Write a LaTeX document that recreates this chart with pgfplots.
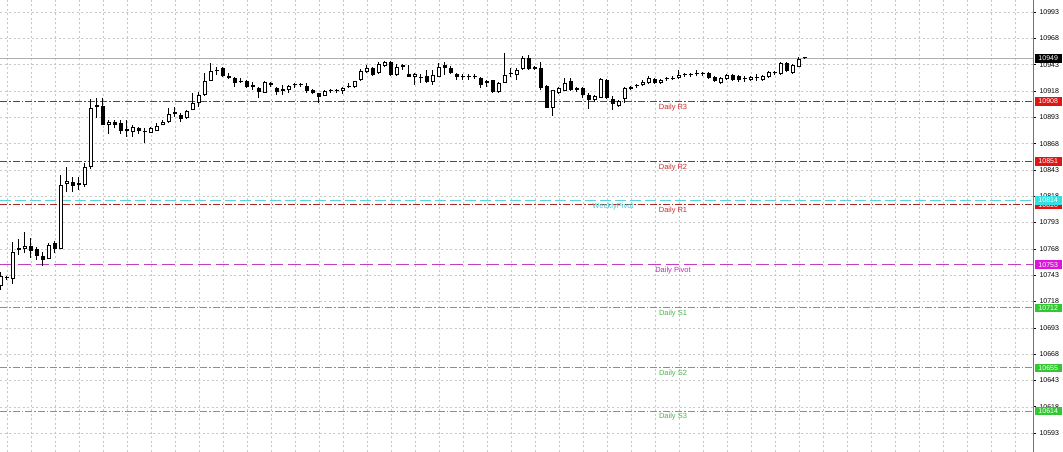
\documentclass[border=0pt]{standalone}
\usepackage{fontspec}
\setmainfont{Liberation Sans}
\usepackage{pgfplots}
\usepackage{pgfplotstable}
\pgfplotsset{compat=1.18}

\definecolor{rline}{RGB}{165,40,40}
\definecolor{rtext}{RGB}{200,45,45}
\definecolor{rbox}{RGB}{225,20,20}
\definecolor{wline}{RGB}{90,210,220}
\definecolor{wtext}{RGB}{60,200,210}
\definecolor{wbox}{RGB}{50,225,225}
\definecolor{pline}{RGB}{195,60,195}
\definecolor{ptext}{RGB}{190,40,190}
\definecolor{pbox}{RGB}{220,20,220}
\definecolor{sline}{RGB}{80,185,80}
\definecolor{stext}{RGB}{75,180,75}
\definecolor{sbox}{RGB}{50,200,50}
\definecolor{gridc}{RGB}{200,200,200}
\definecolor{curline}{RGB}{175,175,175}

\newcommand\tickfont{\fontsize{7}{8}\selectfont}
\newcommand\lblfont{\fontsize{7.5}{9}\selectfont}

\pgfplotstableread{
x o h l c
0 10732.8 10746.1 10729.0 10742.3
1 10741.5 10742.5 10738.5 10740.0
2 10739.4 10774.6 10734.7 10765.1
3 10767.0 10777.4 10762.2 10768.9
4 10767.9 10784.1 10764.1 10770.8
5 10770.8 10778.4 10759.4 10766.0
6 10767.9 10769.8 10757.5 10761.3
7 10761.3 10765.1 10751.8 10757.5
8 10758.4 10773.6 10758.4 10771.7
9 10773.6 10775.5 10764.1 10767.9
10 10767.9 10838.2 10767.9 10828.7
11 10829.7 10845.8 10822.1 10832.5
12 10831.5 10836.3 10822.1 10827.8
13 10828.7 10836.3 10824.0 10830.6
14 10828.7 10849.6 10826.8 10845.8
15 10845.8 10910.4 10843.9 10901.8
16 10903.2 10911.3 10892.4 10903.7
17 10903.7 10911.3 10885.7 10885.7
18 10885.7 10890.4 10877.1 10888.5
19 10888.5 10890.4 10882.8 10885.7
20 10887.6 10890.4 10877.1 10880.0
21 10881.9 10890.4 10874.3 10880.0
22 10879.0 10885.7 10874.3 10883.8
23 10882.8 10883.8 10877.1 10880.0
24 10879.5 10882.8 10868.6 10878.6
25 10878.1 10883.8 10878.1 10882.8
26 10880.0 10887.6 10880.0 10884.7
27 10885.7 10890.4 10885.7 10888.5
28 10888.5 10901.8 10887.6 10896.1
29 10898.0 10902.8 10893.3 10896.1
30 10895.2 10897.1 10888.5 10891.4
31 10892.4 10899.9 10891.4 10899.0
32 10899.9 10916.1 10899.9 10906.6
33 10906.6 10917.0 10902.8 10914.2
34 10914.2 10935.1 10913.2 10927.5
35 10927.5 10944.6 10927.5 10937.0
36 10937.0 10940.8 10933.2 10937.5
37 10939.8 10940.8 10931.3 10932.2
38 10932.2 10935.1 10929.4 10930.3
39 10930.3 10931.3 10921.8 10925.6
40 10927.5 10930.3 10925.6 10926.5
41 10927.5 10928.4 10920.8 10921.8
42 10923.7 10926.5 10918.9 10921.8
43 10920.8 10921.8 10911.3 10917.0
44 10916.1 10927.5 10916.1 10926.5
45 10925.6 10926.5 10921.8 10923.7
46 10920.8 10921.8 10914.2 10917.0
47 10918.9 10923.7 10914.2 10918.4
48 10918.9 10923.7 10916.1 10922.7
49 10923.2 10925.6 10920.8 10923.7
50 10923.7 10925.6 10921.8 10923.2
51 10922.7 10925.6 10916.1 10918.0
52 10918.9 10919.9 10915.1 10916.1
53 10916.1 10916.1 10906.6 10912.3
54 10913.2 10918.9 10913.2 10918.0
55 10917.5 10919.9 10916.1 10918.0
56 10918.0 10919.9 10916.1 10918.5
57 10918.0 10921.8 10915.1 10920.8
58 10921.3 10925.6 10920.8 10921.8
59 10921.8 10927.5 10920.8 10927.5
60 10928.4 10938.9 10927.5 10937.0
61 10936.0 10942.7 10935.1 10939.8
62 10939.8 10940.8 10932.2 10933.2
63 10935.1 10945.5 10934.1 10943.6
64 10941.7 10946.5 10940.8 10945.5
65 10945.5 10946.5 10932.2 10933.2
66 10933.2 10943.6 10932.2 10940.8
67 10941.2 10943.6 10937.9 10941.7
68 10934.1 10942.7 10931.3 10931.3
69 10931.3 10935.1 10923.7 10934.1
70 10930.3 10934.1 10925.6 10930.8
71 10932.2 10937.9 10925.6 10926.5
72 10926.5 10937.9 10923.7 10933.2
73 10931.3 10944.6 10931.3 10940.8
74 10942.7 10945.5 10933.2 10939.8
75 10939.8 10941.7 10934.1 10935.1
76 10934.1 10935.1 10928.4 10931.3
77 10931.3 10934.1 10928.4 10930.8
78 10931.3 10934.1 10928.4 10930.8
79 10931.3 10934.1 10929.4 10930.8
80 10930.3 10931.3 10920.8 10923.7
81 10926.5 10928.4 10921.8 10926.0
82 10928.4 10928.4 10916.1 10917.0
83 10917.0 10926.5 10916.1 10925.6
84 10925.6 10954.1 10925.6 10933.2
85 10934.1 10939.8 10931.3 10934.6
86 10933.2 10939.8 10928.4 10937.9
87 10938.9 10951.2 10937.9 10949.3
88 10949.3 10952.2 10937.9 10938.9
89 10940.8 10941.7 10937.9 10938.9
90 10939.8 10945.5 10918.9 10920.8
91 10922.7 10923.7 10901.8 10901.8
92 10901.8 10918.9 10894.3 10918.9
93 10916.1 10921.8 10915.1 10920.8
94 10918.0 10930.3 10918.0 10925.6
95 10927.5 10930.3 10918.0 10918.9
96 10920.8 10921.8 10917.0 10918.9
97 10920.8 10921.8 10911.3 10914.2
98 10914.2 10916.1 10900.9 10909.4
99 10909.4 10914.2 10907.5 10913.2
100 10911.3 10930.3 10911.3 10929.4
101 10928.4 10929.4 10910.4 10911.3
102 10910.4 10913.2 10899.9 10905.6
103 10903.7 10909.4 10902.8 10908.5
104 10910.4 10921.8 10906.6 10920.8
105 10920.3 10922.7 10918.9 10920.8
106 10922.7 10924.6 10920.8 10923.2
107 10923.7 10928.4 10922.7 10926.5
108 10925.6 10932.2 10924.6 10930.3
109 10929.4 10930.3 10924.6 10925.6
110 10925.6 10929.4 10924.6 10928.4
111 10929.4 10931.3 10927.5 10929.9
112 10929.4 10932.2 10928.4 10929.9
113 10930.3 10937.9 10929.4 10933.2
114 10933.2 10935.1 10931.3 10933.7
115 10933.7 10935.1 10931.3 10933.2
116 10934.1 10937.9 10932.2 10934.6
117 10934.6 10936.0 10932.2 10934.1
118 10935.1 10936.0 10929.4 10930.3
119 10931.3 10932.2 10926.5 10927.5
120 10925.6 10931.3 10924.6 10930.3
121 10929.4 10934.1 10928.4 10933.2
122 10933.2 10934.1 10927.5 10928.4
123 10932.2 10933.2 10926.5 10928.4
124 10929.9 10932.2 10926.5 10929.4
125 10928.4 10932.2 10927.5 10931.3
126 10930.3 10934.1 10927.5 10930.8
127 10928.4 10933.2 10927.5 10932.2
128 10931.3 10937.0 10930.3 10936.0
129 10935.1 10937.0 10933.2 10935.6
130 10934.1 10945.5 10933.2 10944.6
131 10944.6 10945.5 10936.0 10937.0
132 10935.1 10943.6 10934.1 10942.7
133 10940.8 10950.3 10940.8 10948.4
134 10950.0 10950.5 10948.0 10949.0
}\candles

\begin{document}
\begin{tikzpicture}
\begin{axis}[
  name=ax,
  scale only axis, width=1033pt, height=452pt,
  xmin=-0.1167, xmax=172.05,
  ymin=10575.1, ymax=11004.4,
  axis line style={draw=none},
  xtick={1.13,5.13,...,169.13},
  xticklabels={},
  xtick style={draw=none},
  ytick={10593,10618,...,10993},
  ytick pos=right, yticklabel pos=right,
  tick align=outside,
  major tick length=3pt,
  ytick style={black, line width=0.7pt},
  yticklabel style={font=\tickfont, /pgf/number format/1000 sep={}, /pgf/number format/assume math mode=true},
  scaled y ticks=false,
  grid=major,
  major grid style={draw=gridc, dash pattern=on 2pt off 2.5pt, line width=0.6pt},
  clip=false,
]
% reference lines
\addplot[curline, line width=0.8pt, forget plot] coordinates {(-0.1167,10949) (172.05,10949)};
\addplot[rline, line width=1pt, dash pattern=on 7pt off 2pt on 1.5pt off 2pt, forget plot] coordinates {(-0.1167,10908) (172.05,10908)};
\addplot[rline, line width=1pt, dash pattern=on 7pt off 2pt on 1.5pt off 2pt, forget plot] coordinates {(-0.1167,10851) (172.05,10851)};
\addplot[rline, line width=1pt, dash pattern=on 7pt off 2pt on 1.5pt off 2pt, forget plot] coordinates {(-0.1167,10810) (172.05,10810)};
\addplot[wline, line width=1pt, dash pattern=on 11pt off 4pt, forget plot] coordinates {(-0.1167,10814) (172.05,10814)};
\addplot[pline, line width=1pt, dash pattern=on 13pt off 5pt, forget plot] coordinates {(-0.1167,10753) (172.05,10753)};
\addplot[sline, line width=1pt, dash pattern=on 7pt off 2pt on 1.5pt off 2pt, forget plot] coordinates {(-0.1167,10712) (172.05,10712)};
\addplot[sline, line width=1pt, dash pattern=on 7pt off 2pt on 1.5pt off 2pt, forget plot] coordinates {(-0.1167,10655) (172.05,10655)};
\addplot[sline, line width=1pt, dash pattern=on 7pt off 2pt on 1.5pt off 2pt, forget plot] coordinates {(-0.1167,10614) (172.05,10614)};

% candles: wicks
\addplot[draw=none, mark=none, forget plot,
  error bars/.cd, y dir=plus, y explicit, error mark=none,
  error bar style={draw=black, solid, line width=0.9pt}]
  table[x=x, y=l, y error plus expr=\thisrow{h}-\thisrow{l}] {\candles};
% bodies (outline / bear fill)
\addplot[draw=none, mark=none, forget plot,
  error bars/.cd, y dir=plus, y explicit, error mark=none,
  error bar style={draw=black, solid, line width=3.6pt}]
  table[x=x, y expr={min(\thisrow{o},\thisrow{c})}, y error plus expr={max(abs(\thisrow{c}-\thisrow{o}),1)}] {\candles};
% bull hollow interior
\addplot[draw=none, mark=none, forget plot,
  error bars/.cd, y dir=plus, y explicit, error mark=none,
  error bar style={draw=white, solid, line width=1.6pt}]
  table[x=x, y expr={\thisrow{o}+0.95}, y error plus expr={max(\thisrow{c}-\thisrow{o}-1.9,0)}] {\candles};

% line labels
\node[text=rtext, font=\lblfont, yshift=-6pt] at (axis cs:112.05,10908) {Daily R3};
\node[text=rtext, font=\lblfont, yshift=-6pt] at (axis cs:112.05,10851) {Daily R2};
\node[text=rtext, font=\lblfont, yshift=-6pt] at (axis cs:112.05,10810) {Daily R1};
\node[text=wtext, font=\lblfont, yshift=-6.5pt] at (axis cs:102.05,10814) {WeeklyPivot};
\node[text=ptext, font=\lblfont, yshift=-5.5pt] at (axis cs:112.05,10753) {Daily Pivot};
\node[text=stext, font=\lblfont, yshift=-6pt] at (axis cs:112.05,10712) {Daily S1};
\node[text=stext, font=\lblfont, yshift=-6pt] at (axis cs:112.05,10655) {Daily S2};
\node[text=stext, font=\lblfont, yshift=-6pt] at (axis cs:112.05,10614) {Daily S3};

\coordinate (b949) at (axis cs:172.05,10949);
\coordinate (b908) at (axis cs:172.05,10908);
\coordinate (b851) at (axis cs:172.05,10851);
\coordinate (b810) at (axis cs:172.05,10810);
\coordinate (b814) at (axis cs:172.05,10814);
\coordinate (b753) at (axis cs:172.05,10753);
\coordinate (b712) at (axis cs:172.05,10712);
\coordinate (b655) at (axis cs:172.05,10655);
\coordinate (b614) at (axis cs:172.05,10614);
\end{axis}
\draw[black!55, line width=1pt] (ax.south east) -- (ax.north east);
\tikzset{pbx/.style={anchor=west, xshift=1.5pt, minimum width=27pt, minimum height=8.5pt, inner sep=0pt, text=white, font=\tickfont}}
\node[pbx, fill=black] at (b949) {10949};
\node[pbx, fill=rbox] at (b908) {10908};
\node[pbx, fill=rbox] at (b851) {10851};
\node[pbx, fill=rbox] at (b810) {10810};
\node[pbx, fill=wbox] at (b814) {10814};
\node[pbx, fill=pbox] at (b753) {10753};
\node[pbx, fill=sbox] at (b712) {10712};
\node[pbx, fill=sbox] at (b655) {10655};
\node[pbx, fill=sbox] at (b614) {10614};
\pgfresetboundingbox
\path[use as bounding box] (ax.south west) rectangle ([xshift=30pt]ax.north east);
\end{tikzpicture}
\end{document}
